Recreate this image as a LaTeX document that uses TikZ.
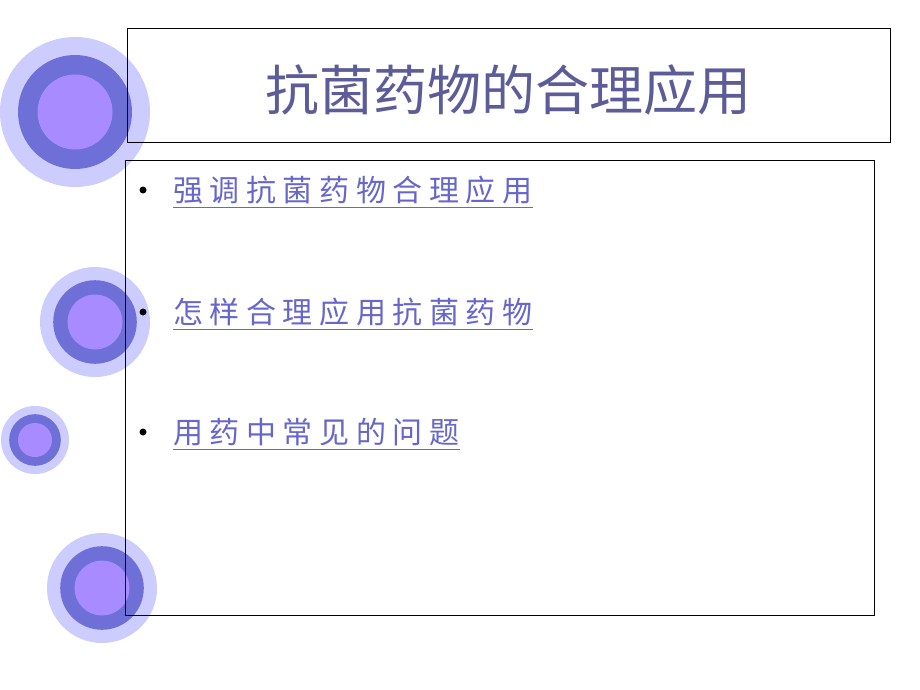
\documentclass[tikz,border=0pt]{standalone}
\usepackage{fontspec}
\newfontfamily\cjk{Noto Sans CJK SC}
\newfontfamily\cjkb{Noto Sans CJK SC}[LetterSpace=22]
\definecolor{outc}{HTML}{CCCCFF}
\definecolor{midc}{HTML}{6F6FD8}
\definecolor{inc}{HTML}{A88CFF}
\definecolor{titc}{HTML}{5C5C99}
\definecolor{linkc}{HTML}{6666CC}
\tikzset{
  ring/.pic={\fill[outc] (0,0) circle (#1); \fill[midc] (0,0) circle (0.76*#1); \fill[inc] (0,0) circle (0.5*#1);},
  box/.style={draw=black, line width=0.8pt},
  item/.style={anchor=west, text=linkc, font=\cjkb\fontsize{30}{32}\selectfont, inner sep=0pt},
  bul/.style={circle, fill=black, inner sep=0pt, minimum size=7pt}
}
\begin{document}
\begin{tikzpicture}[x=1pt,y=-1pt]
\useasboundingbox (0,0) rectangle (920,690);
\fill[white] (0,0) rectangle (920,690);
\pic at (75,112) {ring=75};
\pic at (95,322) {ring=55};
\pic at (35,440) {ring=34};
\pic at (102,588) {ring=55};
\draw[box] (127,28) rectangle (890,142);
\draw[box] (125,160) rectangle (874,615);
\node[text=titc, font=\cjk\fontsize{54}{56}\selectfont] (title) at (508,90) {抗菌药物的合理应用};
\node[bul] (b1) at (143,190) {};
\node[bul] (b2) at (143,312) {};
\node[bul] (b3) at (143,432) {};
\node[item] (t1) at (173,190) {强调抗菌药物合理应用};
\node[item] (t2) at (173,312) {怎样合理应用抗菌药物};
\node[item] (t3) at (173,432) {用药中常见的问题};
\foreach \t in {t1,t2,t3} \draw[linkc, line width=1.2pt] ([yshift=-3pt]\t.south west) -- ([yshift=-3pt]\t.south east);
\end{tikzpicture}
\end{document}
